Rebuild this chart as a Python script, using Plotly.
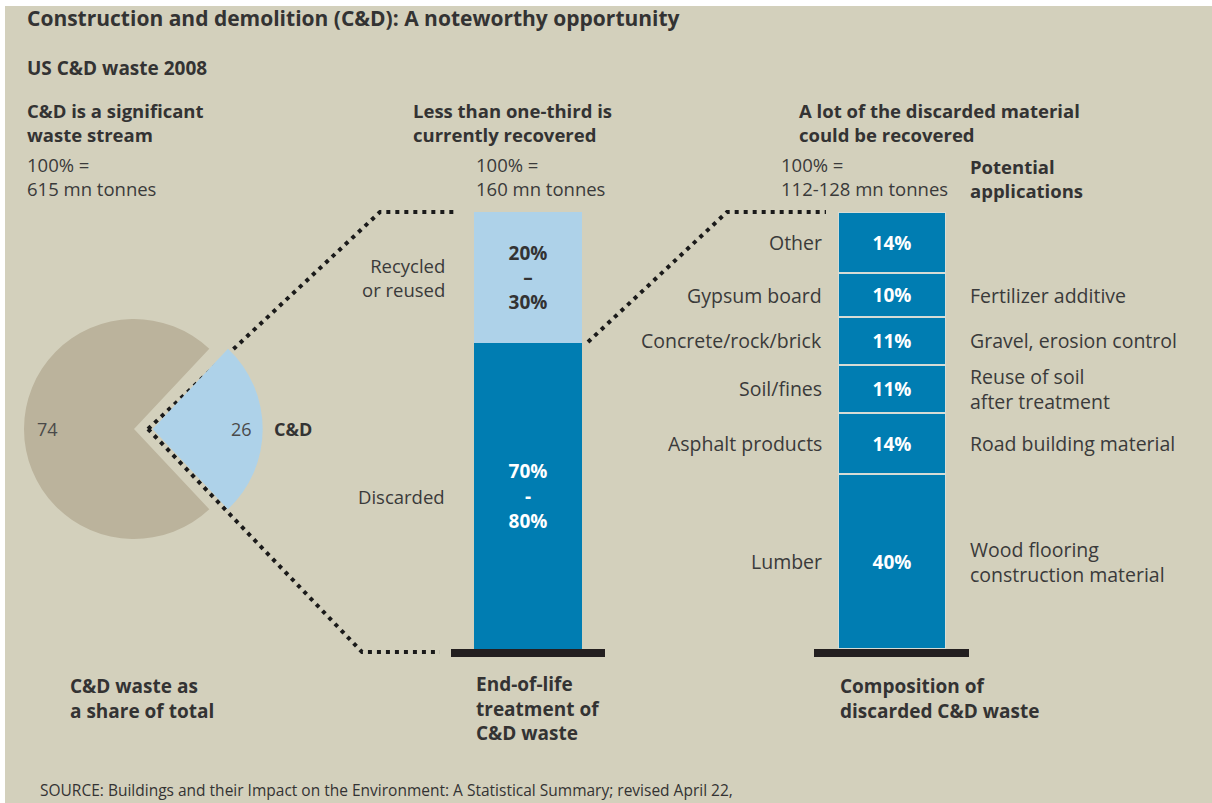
import plotly.graph_objects as go

# ---------------- data ----------------
pie_labels = ["C&D", "Other waste"]
pie_values = [26, 74]

eol_labels = ["Discarded", "Recycled<br>or reused"]
eol_values = [70, 30]
eol_text = ["70%<br>-<br>80%", "20%<br>–<br>30%"]

comp_labels = ["Lumber", "Asphalt products", "Soil/fines", "Concrete/rock/brick", "Gypsum board", "Other"]
comp_values = [40, 14, 11, 11, 10, 14]
comp_apps = ["Wood flooring<br>construction material", "Road building material",
             "Reuse of soil<br>after treatment", "Gravel, erosion control", "Fertilizer additive", ""]

# ---------------- style ----------------
W, H = 1212, 803
BG = "#D3D0BC"
TAN = "#BBB39C"
LIGHT = "#AED2E9"
DARK = "#007DB2"
TXT = "#3a3a3a"
HEAD = "#333333"
FONT = "Open Sans"
BASE = "#231F20"

fig = go.Figure()

# pixel overlay axis for decorations
fig.update_layout(
    xaxis=dict(domain=[0, 1], range=[0, W], visible=False, fixedrange=True),
    yaxis=dict(domain=[0, 1], range=[H, 0], visible=False, fixedrange=True),
)

def px_y(y):
    return (H - y) / H

# bar geometry
B1 = (474, 582)
B2 = (838, 946)
TOP, BOT = 212, 649

fig.update_layout(
    xaxis2=dict(domain=[B1[0] / W, B1[1] / W], range=[-0.5, 0.5], visible=False, anchor="y2"),
    yaxis2=dict(domain=[px_y(BOT), px_y(TOP)], range=[0, 100], visible=False, anchor="x2"),
    xaxis3=dict(domain=[B2[0] / W, B2[1] / W], range=[-0.5, 0.5], visible=False, anchor="y3"),
    yaxis3=dict(domain=[px_y(BOT), px_y(TOP)], range=[0, 100], visible=False, anchor="x3"),
)

# dotted connectors
dash = "4px,5px"
conn = [
    ([148, 380, 457], [429, 212, 212]),
    ([148, 362, 440], [429, 652, 652]),
    ([588, 727, 826], [342, 212, 212]),
]
for xs, ys in conn:
    fig.add_trace(go.Scatter(x=xs, y=ys, mode="lines", xaxis="x", yaxis="y",
                             line=dict(color="#1a1a1a", width=4, dash=dash),
                             hoverinfo="skip", showlegend=False))

# bar 1: end-of-life treatment
eol_colors = [DARK, LIGHT]
eol_txtcol = ["white", "#333333"]
for lab, v, t, c, tc in zip(eol_labels, eol_values, eol_text, eol_colors, eol_txtcol):
    fig.add_trace(go.Bar(x=[0], y=[v], width=1, xaxis="x2", yaxis="y2",
                         marker=dict(color=c, line=dict(width=0)),
                         text=[t], textposition="inside", insidetextanchor="middle",
                         textangle=0, constraintext="none",
                         textfont=dict(family=FONT, size=19, color=tc, weight="bold"),
                         name=lab, showlegend=False, hoverinfo="skip"))

# bar 2: composition
for lab, v in zip(comp_labels, comp_values):
    fig.add_trace(go.Bar(x=[0], y=[v], width=1, xaxis="x3", yaxis="y3",
                         marker=dict(color=DARK, line=dict(width=2, color="#D6DCD6")),
                         text=[f"{v}%"], textposition="inside", insidetextanchor="middle",
                         textangle=0, constraintext="none",
                         textfont=dict(family=FONT, size=19, color="white", weight="bold"),
                         name=lab, showlegend=False, hoverinfo="skip"))

# pie
pull = 0.17
R = 110
cx, cy = 134, 429
half = R * (1 + pull)
fig.add_trace(go.Pie(labels=pie_labels, values=pie_values, sort=False,
                     direction="clockwise", rotation=90 - pie_values[0] / 100 * 180,
                     marker=dict(colors=[LIGHT, TAN], line=dict(width=0)),
                     pull=[pull, 0], textinfo="none", hoverinfo="skip",
                     showlegend=False,
                     domain=dict(x=[(cx - half) / W, (cx + half) / W],
                                 y=[px_y(cy + half), px_y(cy - half)])))

ann = []
def T(x, y, text, size=17, bold=False, color=TXT, xa="left", xref="x", yref="y", xshift=0):
    ann.append(dict(x=x, y=y, xref=xref, yref=yref, text=text, showarrow=False,
                    xanchor=xa, yanchor="middle", xshift=xshift, align=xa if xa != "center" else "center",
                    font=dict(family=FONT, size=size, color=color, weight="bold" if bold else "normal")))

T(25, 18, "Construction and demolition (C&D): A noteworthy opportunity", 21, True, HEAD)
T(25, 68, "US C&D waste 2008", 19, True, HEAD)
T(25, 122, "C&D is a significant<br>waste stream", 18.5, True, HEAD)
T(411, 122, "Less than one-third is<br>currently recovered", 18.5, True, HEAD)
T(797, 122, "A lot of the discarded material<br>could be recovered", 18.5, True, HEAD)
T(25, 176, "100% =<br>615 mn tonnes", 18.5)
T(474, 176, "100% =<br>160 mn tonnes", 18.5)
T(779, 176, "100% =<br>112-128 mn tonnes", 18.5)
T(968, 178, "Potential<br>applications", 18.5, True, HEAD)

# pie labels
T(47, 429, str(pie_values[1]), 18, False, "#4a4a4a", "center")
T(241, 429, str(pie_values[0]), 18, False, "#4a4a4a", "center")
T(272, 429, "C&D", 18, True, HEAD)

# bar 1 side labels
cum = 0
for lab, v in zip(eol_labels, eol_values):
    T(-0.5, cum + v / 2, lab, 18.5, False, TXT, "right", "x2", "y2", -27)
    cum += v

# bar 2 side labels
cum = 0
for lab, v, app in zip(comp_labels, comp_values, comp_apps):
    mid = cum + v / 2
    T(-0.5, mid, lab, 19.5, False, TXT, "right", "x3", "y3", -14)
    if app:
        T(0.5, mid, app, 19.5, False, TXT, "left", "x3", "y3", 22)
    cum += v

# bottom captions
T(68, 698, "C&D waste as<br>a share of total", 19, True, HEAD)
T(474, 708, "End-of-life<br>treatment of<br>C&D waste", 19, True, HEAD)
T(838, 698, "Composition of<br>discarded C&D waste", 19, True, HEAD)
T(38, 790, "SOURCE: Buildings and their Impact on the Environment: A Statistical Summary; revised April 22,", 15.5, False, HEAD)

shapes = [
    dict(type="rect", xref="x", yref="y", x0=0, x1=W, y0=0, y1=6, fillcolor="white", line=dict(width=0), layer="below"),
    dict(type="rect", xref="x", yref="y", x0=0, x1=5, y0=0, y1=H, fillcolor="white", line=dict(width=0), layer="below"),
    dict(type="rect", xref="x", yref="y", x0=451, x1=605, y0=649, y1=657, fillcolor=BASE, line=dict(width=0)),
    dict(type="rect", xref="x", yref="y", x0=814, x1=969, y0=649, y1=657, fillcolor=BASE, line=dict(width=0)),
]

fig.update_layout(
    width=W, height=H, margin=dict(l=0, r=0, t=0, b=0),
    paper_bgcolor=BG, plot_bgcolor="rgba(0,0,0,0)",
    barmode="stack", bargap=0,
    annotations=ann, shapes=shapes, showlegend=False,
    font=dict(family=FONT, color=TXT),
)

fig.write_html("out.html", config={"displayModeBar": False},
               post_script=("document.documentElement.style.margin='0';"
                            "document.documentElement.style.overflow='hidden';"
                            "document.documentElement.style.background='" + BG + "';"
                            "document.body.style.margin='0';document.body.style.padding='0';"
                            "document.body.style.overflow='hidden';"
                            "document.body.style.background='" + BG + "';"))
